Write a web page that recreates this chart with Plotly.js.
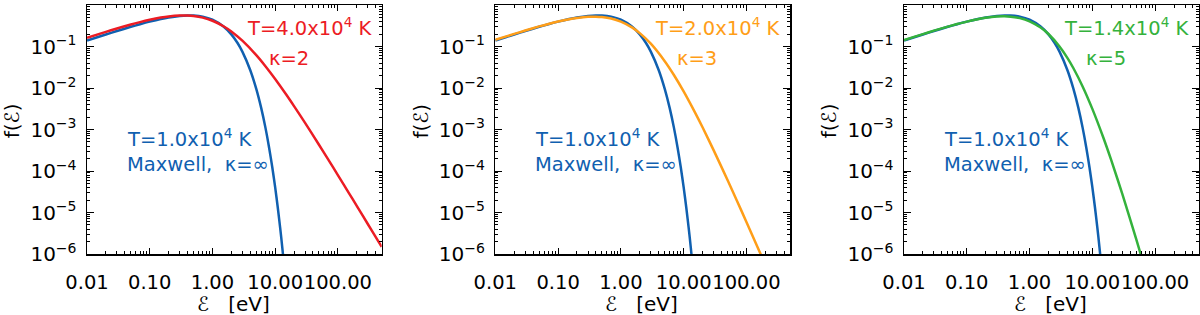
<!DOCTYPE html>
<html>
<head>
<meta charset="utf-8">
<script src="https://cdn.plot.ly/plotly-3.0.1.min.js"></script>
<style>
html,body{margin:0;padding:0;background:#fff;}
#chart{width:1200px;height:315px;}
</style>
</head>
<body>
<div id="chart"></div>
<script>
// ---- data (energy in eV, f(E)) ----
const E_max = [0.01,0.015,0.02,0.03,0.05,0.07,0.1,0.15,0.2,0.3,0.4,0.5,0.7,1,1.5,2,2.5,3,4,5,6,7,8,9,10,11,12,13,14];
const f_max = [0.139,0.170,0.195,0.236,0.298,0.344,0.397,0.459,0.500,0.545,0.561,0.558,0.524,0.442,0.303,0.196,0.123,0.0752,0.0272,0.00952,0.00327,0.00111,3.70e-4,1.23e-4,4.07e-5,1.34e-5,4.37e-6,1.43e-6,4.64e-7];

const E_k2 = [0.01,0.02,0.03,0.05,0.07,0.1,0.15,0.2,0.3,0.4,0.5,0.7,1,1.5,2,3,5,7,10,15,20,30,50,70,100,150,200,300,400,500];
const f_k2 = [0.162,0.225,0.271,0.339,0.387,0.440,0.497,0.531,0.558,0.557,0.543,0.496,0.417,0.308,0.231,0.138,0.0619,0.0335,0.0165,0.00696,0.00366,0.00144,4.29e-4,1.90e-4,7.98e-5,2.94e-5,1.45e-5,5.29e-6,2.59e-6,1.49e-6];

const E_k3 = [0.01,0.02,0.03,0.05,0.07,0.1,0.15,0.2,0.3,0.4,0.5,0.7,1,1.5,2,3,5,7,10,15,20,30,50,70,100,150,200];
const f_k3 = [0.145,0.201,0.243,0.305,0.350,0.400,0.455,0.488,0.519,0.523,0.512,0.472,0.398,0.289,0.210,0.117,0.0443,0.0206,0.00828,0.00266,0.00113,3.19e-4,6.07e-5,1.98e-5,5.93e-6,1.48e-6,5.51e-7];

const E_k5 = [0.01,0.02,0.03,0.05,0.07,0.1,0.15,0.2,0.3,0.4,0.5,0.7,1,1.5,2,3,4,5,7,10,15,20,30,50,70];
const f_k5 = [0.143,0.199,0.241,0.302,0.347,0.398,0.455,0.491,0.526,0.532,0.523,0.483,0.405,0.286,0.200,0.100,0.0532,0.0299,0.0109,0.00314,6.31e-4,1.82e-4,2.80e-5,2.29e-6,4.11e-7];

const panelLabels = ['T=4.0x10<sup>4</sup> K','T=2.0x10<sup>4</sup> K','T=1.4x10<sup>4</sup> K'];
const kappaLabels = ['\u03ba=2','\u03ba=3','\u03ba=5'];
const maxLabel1 = 'T=1.0x10<sup>4</sup> K';
const maxLabel2 = 'Maxwell,\u00a0 \u03ba=\u221e';
const yTickVals = [1e-6,1e-5,1e-4,1e-3,1e-2,1e-1,1];
const yTickText = ['10<sup>\u22126</sup>','10<sup>\u22125</sup>','10<sup>\u22124</sup>','10<sup>\u22123</sup>','10<sup>\u22122</sup>','10<sup>\u22121</sup>','10<sup>0</sup>'];

// ---- styling ----
const BLUE = 'rgb(16,96,176)';
const kColors = ['rgb(236,28,36)','rgb(255,158,24)','rgb(52,178,60)'];
const FONT = 'DejaVu Sans, Liberation Sans, sans-serif';
const W = 1200, H = 315;
const L = [87, 495.3, 904], R = [381.7, 790.3, 1199];
const TOP = 5, BOT = 254;
const px = v => v / W, py = v => 1 - v / H;

function minorVals(lo, hi){
  const out = [];
  for (let d = lo; d <= hi; d++) for (let m = 2; m <= 9; m++) out.push(m * Math.pow(10, d));
  return out;
}

const kE = [E_k2, E_k3, E_k5];
const kF = [f_k2, f_k3, f_k5];

const traces = [];
const layout = {
  width: W, height: H,
  margin: {l:0, r:0, t:0, b:0},
  paper_bgcolor: '#fff', plot_bgcolor: '#fff',
  showlegend: false,
  font: {family: FONT, color: 'black', size: 19},
  annotations: []
};

for (let i = 0; i < 3; i++) {
  const sfx = i === 0 ? '' : String(i + 1);
  traces.push({x: E_max, y: f_max, xaxis: 'x' + sfx, yaxis: 'y' + sfx, mode: 'lines',
               line: {color: BLUE, width: 2.5, shape: 'spline', smoothing: 0.8}, hoverinfo: 'skip'});
  traces.push({x: kE[i], y: kF[i], xaxis: 'x' + sfx, yaxis: 'y' + sfx, mode: 'lines',
               line: {color: kColors[i], width: 2.5, shape: 'spline', smoothing: 0.8}, hoverinfo: 'skip'});

  const axCommon = {
    type: 'log', showline: true, linecolor: 'black', linewidth: 1.5, mirror: 'allticks',
    ticks: 'inside', tickwidth: 1, tickcolor: 'black', showgrid: false, zeroline: false,
    tickangle: 0
  };
  layout['xaxis' + sfx] = Object.assign({}, axCommon, {
    domain: [px(L[i]), px(R[i])], anchor: 'y' + sfx,
    range: [-2, Math.log10(500)], tickmode: 'linear', tick0: 0, dtick: 1, tickformat: '.2f',
    ticklen: 6, ticklabelstandoff: 10,
    tickfont: {family: FONT, size: 19.5, color: 'black'},
    minor: {tickmode: 'array', tickvals: minorVals(-2, 2), ticks: 'inside', ticklen: 3, tickwidth: 1, tickcolor: 'black', showgrid: false}
  });
  layout['yaxis' + sfx] = Object.assign({}, axCommon, {
    domain: [py(BOT), py(TOP)], anchor: 'x' + sfx,
    range: [-6, 0], tickmode: 'array', tickvals: yTickVals, ticktext: yTickText,
    ticklen: 7, ticklabelstandoff: 5,
    tickfont: {family: FONT, size: 20, color: 'black'},
    minor: {tickmode: 'array', tickvals: minorVals(-6, -1), ticks: 'inside', ticklen: 3, tickwidth: 1, tickcolor: 'black', showgrid: false}
  });

  const A = layout.annotations;
  const base = {xref: 'paper', yref: 'paper', showarrow: false};
  A.push(Object.assign({}, base, {text: panelLabels[i], x: px(R[i] - 7), y: py(27), xanchor: 'right', yanchor: 'middle',
    font: {family: FONT, size: 19.5, color: kColors[i]}}));
  A.push(Object.assign({}, base, {text: kappaLabels[i], x: px(L[i] + 201.5), y: py(58), xanchor: 'center', yanchor: 'middle',
    font: {family: FONT, size: 19.5, color: kColors[i]}}));
  A.push(Object.assign({}, base, {text: maxLabel1, x: px(L[i] + 38), y: py(137.5), xanchor: 'left', yanchor: 'middle',
    font: {family: FONT, size: 19.5, color: BLUE}}));
  A.push(Object.assign({}, base, {text: maxLabel2, x: px(L[i] + 38), y: py(164.5), xanchor: 'left', yanchor: 'middle',
    font: {family: FONT, size: 19.5, color: BLUE}}));
  A.push(Object.assign({}, base, {text: '\u2130\u00a0\u00a0\u00a0[eV]', x: px((L[i] + R[i]) / 2 - 1), y: py(304), xanchor: 'center', yanchor: 'middle',
    font: {family: FONT, size: 20, color: 'black'}}));
  A.push(Object.assign({}, base, {text: 'f(\u2130)', x: px(L[i] - 74.7), y: py(121), xanchor: 'center', yanchor: 'middle', textangle: -90,
    font: {family: FONT, size: 20, color: 'black'}}));
}

Plotly.newPlot('chart', traces, layout, {staticPlot: true, displayModeBar: false});
</script>
</body>
</html>
